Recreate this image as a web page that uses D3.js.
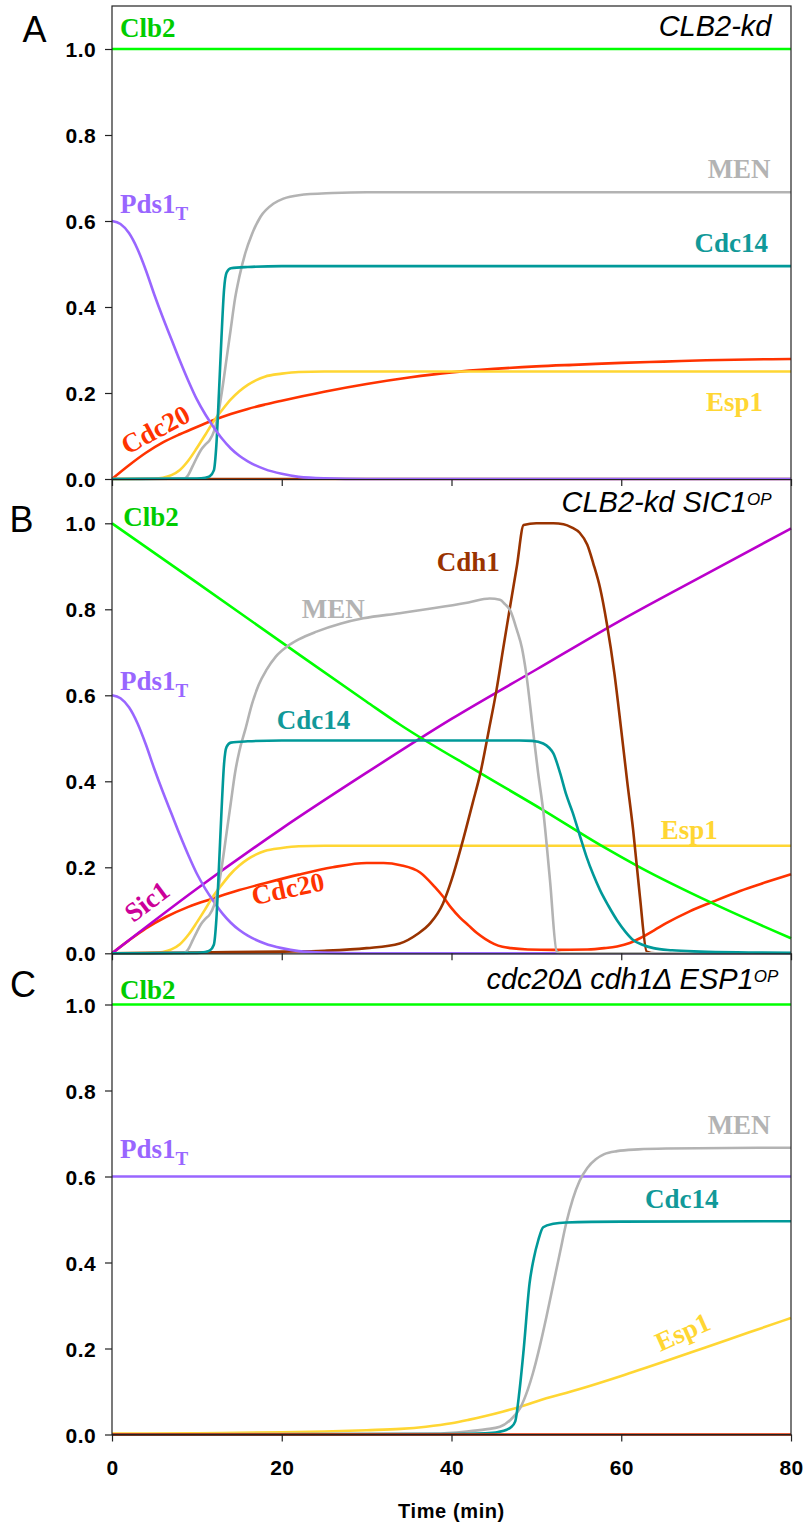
<!DOCTYPE html>
<html>
<head>
<meta charset="utf-8">
<script src="https://cdn.jsdelivr.net/npm/d3@7"></script>
<style>
  body { margin: 0; background: #fff; }
  .tick text { font-family: 'Liberation Sans', Arial, sans-serif; font-weight: bold; font-size: 21px; fill: #000; }
</style>
</head>
<body>
<svg id="chart" width="804" height="1525"></svg>
<script>
// axis ticks
var timeTicks = [0, 20, 40, 60, 80];
var valueTicks = [0, 0.2, 0.4, 0.6, 0.8, 1.0];

// ---- panel A : CLB2-kd ----
var clb2A = [[0,1],[80,1]];
var pds1Decay = [[0,0.6],[1,0.593],[2,0.572],[3,0.535],[4,0.485],[5,0.428],[6,0.375],[7,0.325],[8,0.275],[9,0.228],[10,0.185],[11,0.15],[12,0.12],[13,0.093],[14,0.071],[15,0.054],[16,0.041],[18,0.023],[20,0.012],[22,0.005],[25,0.0015],[30,0],[80,0]];
var cdc20A = [[0,0],[2,0.032],[4,0.061],[6,0.085],[8,0.104],[10,0.121],[12,0.137],[14,0.151],[16,0.163],[18,0.173],[20,0.182],[25,0.203],[30,0.221],[35,0.236],[40,0.248],[45,0.256],[50,0.262],[55,0.266],[60,0.27],[65,0.273],[70,0.276],[75,0.278],[80,0.279]];
var esp1Rise = [[0,0],[5,0.001],[6,0.003],[7,0.009],[8,0.021],[9,0.043],[10,0.072],[11,0.103],[12,0.135],[13,0.161],[14,0.185],[15,0.204],[16,0.219],[17,0.23],[18,0.238],[20,0.245],[22,0.249],[25,0.25],[80,0.25]];
var cdc14A = [[0,0],[10,0.001],[11,0.003],[11.5,0.006],[12,0.02],[12.3,0.08],[12.6,0.2],[12.9,0.33],[13.2,0.44],[13.5,0.48],[14,0.49],[16,0.493],[20,0.495],[80,0.495]];
var menA = [[0,0],[8.5,0.001],[9,0.01],[9.5,0.03],[10,0.05],[10.5,0.068],[11,0.08],[11.5,0.09],[12,0.11],[12.5,0.15],[13,0.21],[13.5,0.28],[14,0.35],[14.5,0.42],[15,0.47],[15.7,0.525],[16.5,0.57],[17.5,0.61],[19,0.64],[20.2,0.652],[22,0.66],[26,0.665],[30,0.667],[80,0.667]];
var cdh1A = [[0,0],[80,0]];

// ---- panel B : CLB2-kd SIC1OP ----
var clb2B = [[0,1],[10,0.862],[20,0.723],[30,0.585],[34,0.531],[43.4,0.419],[50.8,0.333],[57.5,0.252],[62.2,0.2],[70.8,0.116],[80,0.035]];
var sic1B = [[0,0],[10,0.15],[20,0.29],[30,0.42],[40,0.545],[50,0.66],[60,0.775],[70,0.882],[80,0.988]];
var cdc20B = [[0,0],[2,0.03],[4,0.058],[6.4,0.085],[9,0.108],[12,0.128],[15,0.147],[18,0.163],[22,0.183],[26,0.2],[30,0.21],[32,0.21],[34,0.205],[36.3,0.188],[38,0.155],[39,0.132],[40,0.105],[41,0.083],[42,0.065],[43,0.047],[44,0.033],[45,0.022],[46,0.015],[47,0.012],[49,0.009],[52,0.008],[56,0.009],[58,0.012],[59.5,0.016],[61,0.024],[62.2,0.035],[64,0.055],[65.3,0.07],[68,0.097],[70.8,0.12],[74,0.145],[77,0.165],[80,0.184]];
var cdh1B = [[0,0],[10,0.002],[20,0.004],[25,0.006],[30,0.012],[33.9,0.023],[36,0.045],[37.5,0.07],[39,0.116],[40,0.17],[41.2,0.252],[42.5,0.35],[43.4,0.419],[44.4,0.519],[45.3,0.612],[46.1,0.71],[46.9,0.806],[47.7,0.9],[48.5,0.996],[50,1.0],[52,1.0],[53.2,0.998],[54.2,0.99],[55.1,0.978],[56,0.95],[56.7,0.907],[57.5,0.85],[58.3,0.767],[59.2,0.65],[60,0.519],[60.7,0.4],[61.4,0.287],[62.2,0.132],[63,0.004],[64,0],[80,0]];
var cdc14B = [[0,0],[10,0.001],[11,0.003],[11.5,0.006],[12,0.02],[12.3,0.08],[12.6,0.2],[12.9,0.33],[13.2,0.44],[13.5,0.48],[14,0.49],[16,0.493],[20,0.495],[48,0.495],[49.5,0.494],[50.8,0.488],[51.5,0.478],[52,0.465],[52.8,0.419],[53.5,0.37],[54.3,0.326],[55.1,0.275],[55.9,0.225],[56.7,0.183],[57.5,0.147],[58.5,0.11],[59.5,0.077],[60.5,0.05],[61.4,0.031],[62.5,0.02],[63.8,0.012],[66,0.007],[69.3,0.004],[75,0.002],[80,0.001]];
var menB = [[0,0],[8.5,0.001],[9,0.01],[9.5,0.03],[10,0.05],[10.5,0.068],[11,0.08],[11.5,0.09],[12,0.11],[12.5,0.15],[13,0.21],[13.5,0.28],[14,0.35],[14.5,0.42],[15,0.47],[15.7,0.52],[16.5,0.58],[17.3,0.625],[18.2,0.659],[19.3,0.69],[20.6,0.713],[22,0.73],[24.1,0.748],[27,0.767],[29.6,0.779],[33.9,0.791],[38,0.803],[42,0.816],[44.5,0.825],[45.7,0.822],[46.3,0.812],[46.9,0.798],[47.7,0.752],[48.3,0.71],[48.8,0.651],[49.6,0.519],[50.2,0.42],[50.8,0.333],[51.6,0.171],[52.4,0.004],[53,0],[80,0]];

// ---- panel C : cdc20Δ cdh1Δ ESP1OP ----
var clb2C = [[0,1],[80,1]];
var pds1C = [[0,0.6],[80,0.6]];
var esp1C = [[0,0.002],[10,0.003],[20,0.005],[25,0.007],[30,0.01],[34,0.013],[37,0.018],[40,0.026],[42,0.034],[44,0.043],[46,0.053],[48,0.064],[50,0.077],[55,0.105],[60,0.136],[65,0.169],[70,0.203],[75,0.237],[80,0.271]];
var cdc14C = [[0,0],[40,0.001],[44,0.003],[45.5,0.006],[46.5,0.011],[47,0.017],[47.5,0.03],[48,0.1],[48.5,0.197],[49.2,0.352],[49.7,0.41],[50.2,0.45],[50.8,0.482],[52,0.49],[53.5,0.493],[60,0.495],[80,0.496]];
var menC = [[0,0],[38,0.002],[41.8,0.007],[44,0.012],[45.7,0.018],[47,0.035],[48.1,0.062],[49,0.105],[49.6,0.143],[50.4,0.205],[51.2,0.275],[52,0.35],[52.8,0.425],[53.5,0.49],[54.3,0.548],[55.1,0.59],[56,0.62],[57,0.64],[58,0.652],[59.5,0.659],[62,0.663],[65.3,0.665],[80,0.667]];
var cdc20C = [[0,0],[80,0]];

var lineColor = { Clb2:'#00ff00', Pds1:'#9966ff', MEN:'#b3b3b3', Cdc14:'#009999', Esp1:'#ffd633', Cdc20:'#ff3300', Cdh1:'#993300', Sic1:'#bb00cc' };
var textColor = { Clb2:'#00cc00', Pds1:'#9966ff', MEN:'#b3b3b3', Cdc14:'#119999', Esp1:'#ffd633', Cdc20:'#ff3300', Cdh1:'#993300', Sic1:'#cc0099' };

var panels = [
  { letter:'A', lx:22.5, ly:42, top:6, base:479, title:['CLB2-kd',''], tt:77.7, tv:1.03,
    lines:[['Cdh1',cdh1A],['Cdc20',cdc20A],['Esp1',esp1Rise],['MEN',menA],['Cdc14',cdc14A],['Pds1',pds1Decay],['Clb2',clb2A]],
    labels:[['Clb2',0.94,1.027,'start',0],['Pds1',0.94,0.618,'start',0],['MEN',77.6,0.699,'end',0],['Cdc14',77.3,0.528,'end',0],['Esp1',76.7,0.157,'end',0],['Cdc20',1.8,0.056,'start',-28]] },
  { letter:'B', lx:9.5, ly:531.7, top:479, base:953.3, title:['CLB2-kd SIC1','OP'], tt:77.7, tv:1.027,
    lines:[['Cdc20',cdc20B],['Esp1',esp1Rise],['Sic1',sic1B],['Clb2',clb2B],['Cdh1',cdh1B],['Pds1',pds1Decay],['MEN',menB],['Cdc14',cdc14B]],
    labels:[['Clb2',1.33,0.994,'start',0],['MEN',22.35,0.779,'start',0],['Pds1',0.94,0.613,'start',0],['Cdc14',19.4,0.522,'start',0],['Cdh1',38.25,0.89,'start',0],['Esp1',64.65,0.266,'start',0],['Cdc20',16.7,0.112,'start',-12],['Sic1',2.5,0.07,'start',-37]] },
  { letter:'C', lx:10, ly:996.7, top:954, base:1434.5, title:['cdc20\u0394 cdh1\u0394 ESP1','OP'], tt:78.5, tv:1.035,
    lines:[['Clb2',clb2C],['Pds1',pds1C],['Esp1',esp1C],['MEN',menC],['Cdc14',cdc14C],['Cdc20',cdc20C]],
    labels:[['Clb2',0.94,1.012,'start',0],['Pds1',0.94,0.642,'start',0],['MEN',77.6,0.7,'end',0],['Cdc14',62.8,0.526,'start',0],['Esp1',64.6,0.192,'start',-24]] }
];

var svg = d3.select('#chart');
var x = d3.scaleLinear().domain([0, 80]).range([112, 791]);

panels.forEach(function(p, i) {
  var y = d3.scaleLinear().domain([0, 1]).range([p.base, p.base - 430]);
  var g = svg.append('g').attr('class', 'panel');

  // series
  var line = d3.line()
               .x(function(d) { return x(d[0]); })
               .y(function(d) { return y(d[1]); })
               .curve(d3.curveMonotoneX);
  g.selectAll('.series').data(p.lines).enter().append('path')
   .attr('class', 'series')
   .attr('d', function(d) { return line(d[1]); })
   .style('fill', 'none')
   .style('stroke', function(d) { return lineColor[d[0]]; })
   .style('stroke-width', 2.6)
   .style('stroke-linejoin', 'round');

  // axes
  var ya = g.append('g').attr('transform', 'translate(112,0)')
            .call(d3.axisLeft(y).tickValues(valueTicks).tickSize(7).tickPadding(9).tickSizeOuter(0).tickFormat(d3.format('.1f')));
  ya.select('.domain').remove();
  ya.selectAll('line').style('stroke', '#222').style('stroke-width', 1.2);
  ya.selectAll('text').attr('dy', '0.36em').style('letter-spacing', '0.4px');

  var last = (i === panels.length - 1);
  var xa = g.append('g').attr('transform', 'translate(0,' + p.base + ')')
            .call(d3.axisBottom(x).tickValues(timeTicks).tickSize(7).tickPadding(19).tickSizeOuter(0)
                  .tickFormat(last ? d3.format('d') : function() { return ''; }));
  xa.select('.domain').style('stroke', '#222').style('stroke-width', 1.2);
  xa.selectAll('line').style('stroke', '#222').style('stroke-width', 1.2);
  xa.selectAll('text').style('letter-spacing', '0.4px');

  // series labels
  p.labels.forEach(function(l) {
    var t = g.append('text')
             .attr('transform', 'translate(' + x(l[1]) + ',' + y(l[2]) + ') rotate(' + l[4] + ')')
             .attr('text-anchor', l[3])
             .style('font-family', "'Liberation Serif', 'Times New Roman', serif")
             .style('font-weight', 'bold')
             .style('font-size', '27px')
             .style('fill', textColor[l[0]]);
    if (l[0] === 'Pds1') {
      t.append('tspan').text('Pds1');
      t.append('tspan').attr('dy', 7).style('font-size', '19px').text('T');
    } else {
      t.text(l[0]);
    }
  });

  // strain title
  var tt = g.append('text')
            .attr('x', x(p.tt)).attr('y', y(p.tv))
            .attr('text-anchor', 'end')
            .style('font-family', "'Liberation Sans', Arial, sans-serif")
            .style('font-style', 'italic')
            .style('font-size', '29px')
            .style('fill', '#000');
  tt.append('tspan').text(p.title[0]);
  if (p.title[1]) tt.append('tspan').attr('dy', -7).style('font-size', '17px').text(p.title[1]);

  // panel letter
  svg.append('text').attr('x', p.lx).attr('y', p.ly)
     .style('font-family', "'Liberation Sans', Arial, sans-serif")
     .style('font-size', '36px')
     .style('fill', '#000')
     .text(p.letter);
});

// frame
svg.append('rect')
   .attr('x', x(0)).attr('y', panels[0].top)
   .attr('width', x(80) - x(0)).attr('height', panels[2].base - panels[0].top)
   .style('fill', 'none').style('stroke', '#222').style('stroke-width', 1.2);

// x label
svg.append('text')
   .attr('x', 451.5).attr('y', 1518)
   .attr('text-anchor', 'middle')
   .style('font-family', "'Liberation Sans', Arial, sans-serif")
   .style('font-weight', 'bold')
   .style('font-size', '20px')
   .style('letter-spacing', '0.6px')
   .text('Time (min)');
</script>
</body>
</html>
